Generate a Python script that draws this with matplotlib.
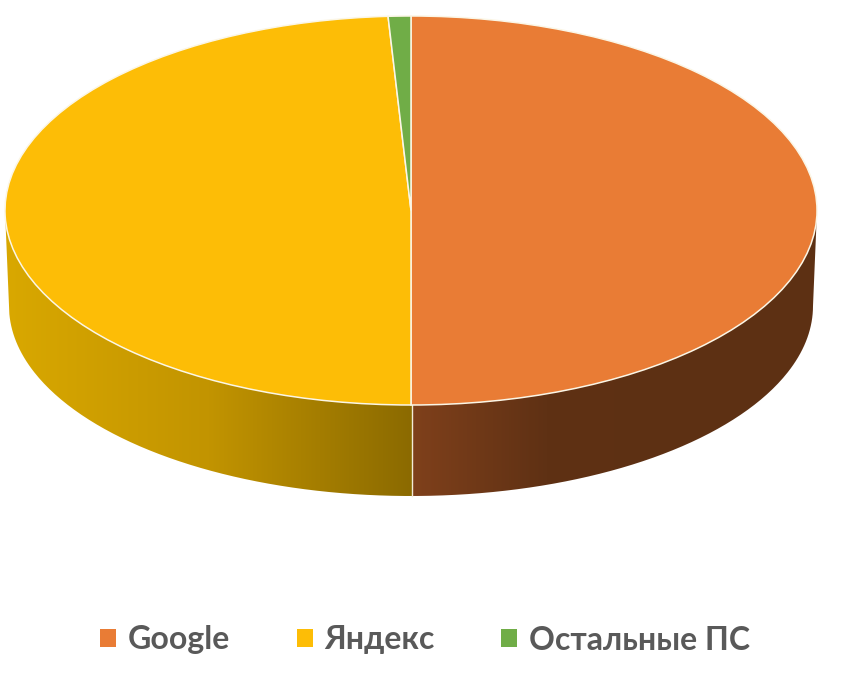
import numpy as np
import matplotlib
matplotlib.use("Agg")
import matplotlib.pyplot as plt
from matplotlib.colors import LinearSegmentedColormap
from matplotlib.patches import Patch, PathPatch
from matplotlib.path import Path

categories = ["Google", "Яндекс", "Остальные ПС"]
shares = [50.0, 49.1, 0.9]
colors = ["#E97C35", "#FDBD06", "#70AD47"]
yandex_wall = ["#D9A800", "#C29400", "#8B6A00"]
google_wall = ["#7F401B", "#5F3114", "#5D3013", "#5E3114"]

W, H = 842, 678
fig = plt.figure(figsize=(W / 100, H / 100), dpi=100, facecolor="white")

# Geometry in pixels
cx, cy, rx, ry = 411, 210.5, 406, 194.5
bcx, bcy, brx, bry = 411, 306, 402, 190

# Side wall
base = fig.add_axes([0, 0, 1, 1], zorder=1)
base.set_xlim(0, W)
base.set_ylim(H, 0)
base.axis("off")
split = cx + rx * np.sin(2 * np.pi * shares[0] / sum(shares)) + 1

t = np.linspace(np.pi, 0, 300)
verts = [(cx - rx, cy)] + list(zip(bcx + brx * np.cos(t), bcy + bry * np.sin(t))) + [(cx + rx, cy)]
wall = PathPatch(Path(verts + [verts[0]]), transform=base.transData, fc="none", ec="none")
base.add_patch(wall)

ramps = [
    (LinearSegmentedColormap.from_list("y", yandex_wall), cx - rx, split),
    (LinearSegmentedColormap.from_list("g", google_wall), split, cx + rx),
]
for cmap, x0, x1 in ramps:
    im = base.imshow(np.linspace(0, 1, 256)[None, :], cmap=cmap, aspect="auto",
                     extent=[x0, x1, bcy + bry, cy], interpolation="bilinear", zorder=1)
    im.set_clip_path(wall)
base.set_xlim(0, W)
base.set_ylim(H, 0)
base.plot([split, split], [cy + ry, bcy + bry], color="#F3EBD6", lw=1, zorder=2)

# Top face
top = fig.add_axes([(cx - rx) / W, 1 - (cy + ry) / H, 2 * rx / W, 2 * ry / H], zorder=2)
top.pie(shares, colors=colors, startangle=90, counterclock=False, radius=1,
        wedgeprops=dict(edgecolor="#FBF6E6", linewidth=1.1, clip_on=False))
top.set_aspect("auto")
top.set_xlim(-1, 1)
top.set_ylim(-1, 1)
top.patch.set_alpha(0)

handles = [Patch(facecolor=c, edgecolor="none") for c in colors]
leg = fig.legend(handles, categories, loc="center", bbox_to_anchor=(425 / W, 1 - 640 / H),
                 ncol=3, frameon=False, handlelength=0.5, handleheight=0.5,
                 handletextpad=0.35, columnspacing=2.1,
                 prop=dict(family="Lato", weight="bold", size=23))
for txt in leg.get_texts():
    txt.set_color("#595959")

fig.savefig("out.png", dpi=100, facecolor="white")
